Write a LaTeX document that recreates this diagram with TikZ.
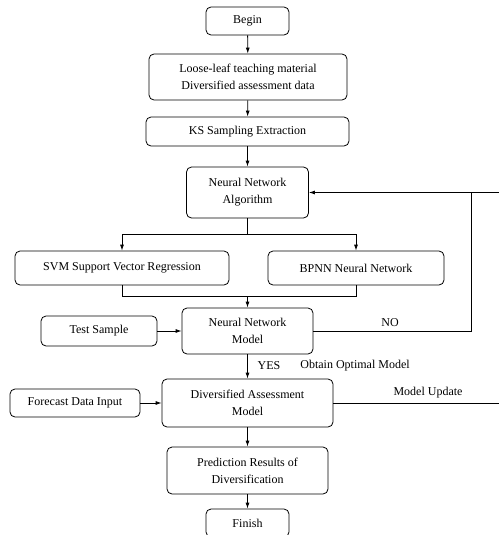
\documentclass[tikz,border=0pt]{standalone}
\usepackage{fontspec}
\setmainfont{Liberation Serif}
\usetikzlibrary{arrows.meta}
\begin{document}
\begin{tikzpicture}[x=1pt,y=-1pt,
  box/.style={draw, rounded corners=5pt, line width=0.8pt, inner sep=0pt, align=center, font=\fontsize{12}{17}\selectfont},
  conn/.style={line width=0.8pt},
  arr/.style={line width=0.8pt, -{Latex[length=6pt,width=4pt]}},
  lbl/.style={font=\fontsize{12}{14}\selectfont, inner sep=0pt}]
\useasboundingbox (0,0) rectangle (498,535);
\node[box, minimum width=83pt, minimum height=28pt] (begin) at (247.5,21) {Begin};
\node[box, minimum width=198pt, minimum height=46pt] (loose) at (248,77) {Loose-leaf teaching material\\Diversified assessment data};
\node[box, minimum width=203pt, minimum height=29pt] (ks) at (247.5,131.5) {KS Sampling Extraction};
\node[box, minimum width=122pt, minimum height=51pt] (nna) at (247.5,192.5) {Neural Network\\Algorithm};
\node[box, minimum width=214pt, minimum height=34pt] (svm) at (122,268) {SVM Support Vector Regression};
\node[box, minimum width=176pt, minimum height=34pt] (bpnn) at (356,268) {BPNN Neural Network};
\node[box, minimum width=131pt, minimum height=46pt] (nnm) at (247.5,331) {Neural Network\\Model};
\node[box, minimum width=116pt, minimum height=30pt] (test) at (99,331) {Test Sample};
\node[box, minimum width=171pt, minimum height=48pt] (dam) at (247.5,403) {Diversified Assessment\\Model};
\node[box, minimum width=130pt, minimum height=28pt] (fore) at (75,403) {Forecast Data Input};
\node[box, minimum width=161pt, minimum height=47pt] (pred) at (247.5,470.5) {Prediction Results of\\Diversification};
\node[box, minimum width=83pt, minimum height=28pt] (finish) at (247.5,523) {Finish};

\coordinate (split) at (247.5,234);
\coordinate (merge) at (247.5,296);
\coordinate (join) at (471,192.5);
\coordinate (far) at (510,192.5);

\draw[arr] (begin) -- (loose);
\draw[arr] (loose) -- (ks);
\draw[arr] (ks) -- (nna);
\draw[conn] (nna.south) -- (split);
\draw[arr] (split) -| (svm.north);
\draw[arr] (split) -| (bpnn.north);
\draw[conn] (svm.south) |- (merge);
\draw[conn] (bpnn.south) |- (merge);
\draw[arr] (merge) -- (nnm.north);
\draw[arr] (test) -- (nnm);
\draw[conn] (nnm.east) -| (join);
\draw[arr] (far) -- (nna.east);
\draw[arr] (nnm) -- (dam);
\draw[arr] (fore) -- (dam);
\draw[conn] (dam.east) -- ++(177,0) |- (far);
\draw[arr] (dam) -- (pred);
\draw[arr] (pred) -- (finish);

\node[lbl] (no) at (390,323) {NO};
\node[lbl] (yes) at (269,366) {YES};
\node[lbl] (opt) at (355,366) {Obtain Optimal Model};
\node[lbl] (upd) at (428,393) {Model Update};
\end{tikzpicture}
\end{document}
